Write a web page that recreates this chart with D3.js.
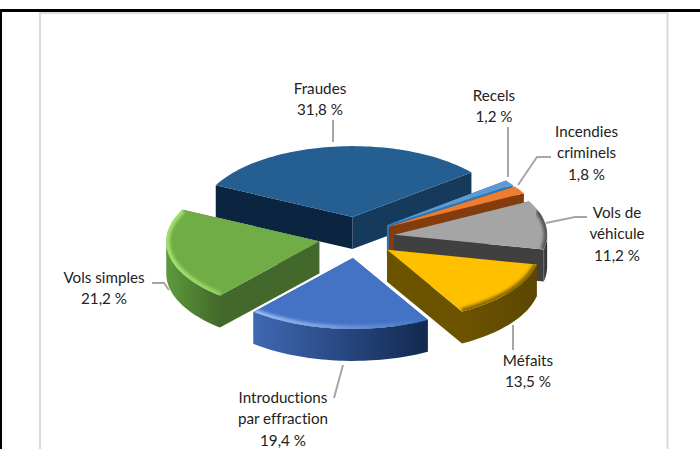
<!DOCTYPE html>
<html><head><meta charset="utf-8">
<script src="https://cdn.jsdelivr.net/npm/d3@7"></script>
<style>html,body{margin:0;padding:0;background:#fff}svg{display:block}text{font-family:Lato,"Open Sans",sans-serif;font-size:15.2px;fill:#222;font-variant-ligatures:none}</style>
</head><body><svg id="c" width="700" height="449"></svg>
<script>
const categories=["Fraudes","Recels","Incendies criminels","Vols de véhicule","Méfaits","Introductions par effraction","Vols simples"];
const values=[31.8,1.2,1.8,11.2,13.5,19.4,21.2];
const valueLabels=["31,8 %","1,2 %","1,8 %","11,2 %","13,5 %","19,4 %","21,2 %"];
const labelLines=[["Fraudes"],["Recels"],["Incendies","criminels"],["Vols de","véhicule"],["Méfaits"],["Introductions","par effraction"],["Vols simples"]];
const topColors=["#255e91","#5b9bd5","#ed7d31","#a5a5a5","#ffc000","#4472c4","#70ad47"];
const startWall=["#0b2540","#2e75b6","#843c0c","#404040","#6b5300","#2f5597","#43682b"];
const endWall=["#163a5c","#2e75b6","#843c0c","#404040","#6b5300","#2f5597","#43682b"];
const arcWall=[["#163a5c","#163a5c"],["#2e75b6","#2e75b6"],["#843c0c","#843c0c"],["#4a4a4a","#303030"],["#6b5300","#5c4700"],["#3f68b4","#12294f"],["#5f9a3c","#43682b"]];
const rimStart=[null,null,null,"#555555","#8a6800","#9cc0f7","#a4e070"];
const rimEnd=[null,null,null,"#555555","#8a6800","#4472c4","#8ed05c"];
const labelX=[320,494,586.5,617,528,283,104];
const labelY=[94,101,137,218,366,403,283];
const drawOrder=[0,1,2,3,4,6,5];
const leaderEnds=[[[333,120],[333,142]],[[508,127],[508,177]],[[551,157],[537,157],[518,185]],[[587,217],[575,217],[546,223]],[[513,350],[513,325]],[[334,398],[343,365]],[[152,283],[164,283],[169,290]]];

const W=700,H=449,cx=356.5,cy=237.5,rx=153,ry=71,depth=32,ex=38,ey=20.5;
const rad=d=>d*Math.PI/180;
const svg=d3.select("#c");
const defs=svg.append("defs");
defs.append("filter").attr("id","blur").attr("x","-20%").attr("y","-20%").attr("width","140%").attr("height","140%")
  .append("feGaussianBlur").attr("stdDeviation",1.6);

svg.append("rect").attr("x",40).attr("y",13).attr("width",627.5).attr("height",H).attr("fill","#fff").attr("stroke","#dcdcdc").attr("stroke-width",2.2);
svg.append("path").attr("d",`M0.5 ${H} V10.5 H700`).attr("fill","none").attr("stroke","#000").attr("stroke-width",3);

const start=rad(-63.3);
const arcs=d3.pie().sort(null).startAngle(start).endAngle(start+2*Math.PI)(values);
const pieces=arcs.map((a,i)=>({a,i}));
const sx=d3.scaleLinear().domain([0,1]).range([0,rx]);
const sy=d3.scaleLinear().domain([0,1]).range([0,ry]);
function pt(d,t,r,dz){
  const m=(d.a.startAngle+d.a.endAngle)/2;
  return [cx+ex*Math.sin(m)+sx(r)*Math.sin(t), cy-ey*Math.cos(m)-sy(r)*Math.cos(t)+(dz||0)];
}
function arcPts(d,t0,t1,r,dz){
  const n=Math.max(2,Math.ceil(Math.abs(t1-t0)/0.03));
  return d3.range(n+1).map(k=>pt(d,t0+(t1-t0)*k/n,r,dz));
}
function grad(id,xs,c0,c1){
  const gr=defs.append("linearGradient").attr("id",id).attr("gradientUnits","userSpaceOnUse")
    .attr("x1",Math.min(...xs)).attr("x2",Math.max(...xs)).attr("y1",0).attr("y2",0);
  gr.append("stop").attr("offset",0).attr("stop-color",c0);
  gr.append("stop").attr("offset",1).attr("stop-color",c1);
}
const line=d3.line();
const layer=svg.append("g");
drawOrder.forEach(i=>{
  const d=pieces[i],a0=d.a.startAngle,a1=d.a.endAngle,g=layer.append("g");
  const apex=pt(d,a0,0),c0=pt(d,a0,1),c1=pt(d,a1,1);
  const wall=(p,q)=>line([p,q,[q[0],q[1]+depth],[p[0],p[1]+depth]])+"Z";
  g.append("path").attr("d",wall(apex,c1)).attr("fill",endWall[i]);
  g.append("path").attr("d",wall(apex,c0)).attr("fill",startWall[i]);
  const v0=Math.max(a0,rad(90)),v1=Math.min(a1,rad(270));
  const vb0=Math.max(a0,rad(90-360)),vb1=Math.min(a1,rad(-90));
  [[v0,v1],[vb0,vb1]].forEach(([t0,t1],j)=>{
    if(t1<=t0) return;
    const id="w"+i+"_"+j;
    grad(id,[pt(d,t0,1)[0],pt(d,t1,1)[0]],arcWall[i][0],arcWall[i][1]);
    const up=arcPts(d,t0,t1,1,0),dn=arcPts(d,t1,t0,1,depth);
    g.append("path").attr("d",line(up.concat(dn))+"Z").attr("fill",`url(#${id})`);
  });
  const top=[apex].concat(arcPts(d,a0,a1,1,0));
  const cid="clip"+i;
  defs.append("clipPath").attr("id",cid).append("path").attr("d",line(top)+"Z");
  g.append("path").attr("d",line(top)+"Z").attr("fill",topColors[i]);
  if(rimStart[i]){
    const t0=Math.max(a0,rad(70)),t1=Math.min(a1,rad(300));
    const id="r"+i;
    grad(id,[pt(d,t0,1)[0],pt(d,t1,1)[0]],rimStart[i],rimEnd[i]);
    g.append("g").attr("clip-path",`url(#${cid})`).append("path")
      .attr("d",line(arcPts(d,t0,t1,1,0))).attr("fill","none")
      .attr("stroke",`url(#${id})`).attr("stroke-width",7).attr("filter","url(#blur)");
  }
});

const leader=d3.line();
svg.append("g").selectAll("path").data(leaderEnds).join("path")
  .attr("d",d=>leader(d)).attr("fill","none").attr("stroke","#a6a6a6").attr("stroke-width",2);

const lh=21.3;
categories.forEach((c,i)=>{
  const t=svg.append("text").attr("text-anchor","middle");
  labelLines[i].concat([valueLabels[i]]).forEach((s,k)=>{
    t.append("tspan").attr("x",labelX[i]).attr("y",labelY[i]+k*lh).text(s);
  });
});
</script></body></html>
